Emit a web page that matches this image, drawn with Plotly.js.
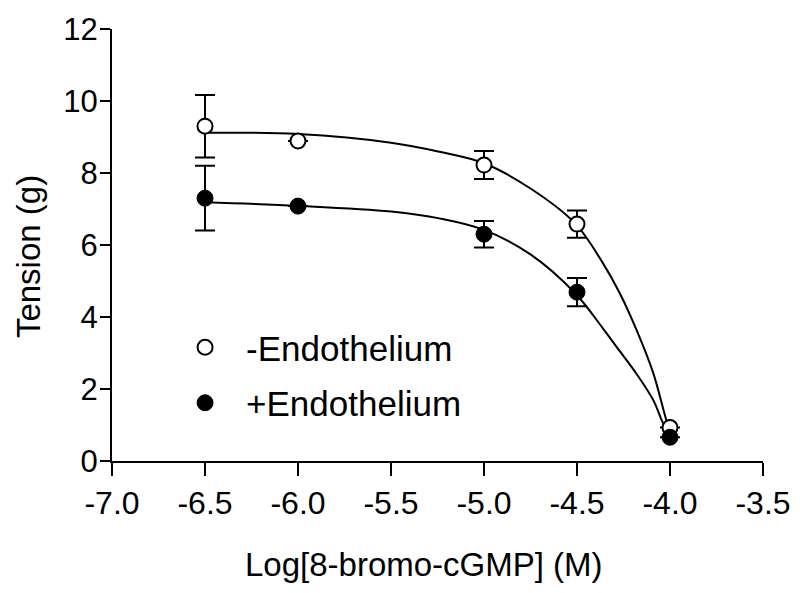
<!DOCTYPE html>
<html>
<head>
<meta charset="utf-8">
<script src="https://cdn.plot.ly/plotly-3.0.1.min.js"></script>
<style>
  html, body { margin: 0; padding: 0; background: #ffffff; }
  #chart { width: 800px; height: 593px; }
</style>
</head>
<body>
<div id="chart"></div>
<script>
// Measured data (log molar concentration of 8-bromo-cGMP vs tension in g)
const logConc = [-6.5, -6.0, -5.0, -4.5, -4.0];

const tensionMinusEndo = [9.30, 8.89, 8.22, 6.58, 0.93];
const semMinusEndo     = [0.87, 0.00, 0.39, 0.38, 0.00];

const tensionPlusEndo  = [7.30, 7.08, 6.30, 4.69, 0.66];
const semPlusEndo      = [0.90, 0.00, 0.37, 0.39, 0.00];

// Fitted curves
const curveMinusX = [-6.5, -6.0, -5.5, -5.24, -5.0, -4.75, -4.51, -4.36, -4.27, -4.18, -4.09, -4.02, -4.0];
const curveMinusY = [9.12, 9.08, 8.84, 8.59, 8.27, 7.57, 6.60, 5.49, 4.66, 3.64, 2.44, 1.14, 0.85];

const curvePlusX  = [-6.5, -6.0, -5.5, -5.24, -5.0, -4.75, -4.51, -4.36, -4.27, -4.18, -4.09, -4.04, -4.0];
const curvePlusY  = [7.19, 7.09, 6.93, 6.74, 6.42, 5.74, 4.66, 3.68, 3.05, 2.42, 1.69, 1.08, 0.68];

// Axis ticks
const xTickVals = [-7.0, -6.5, -6.0, -5.5, -5.0, -4.5, -4.0, -3.5];
const xTickText = ["-7.0", "-6.5", "-6.0", "-5.5", "-5.0", "-4.5", "-4.0", "-3.5"];
const yTickVals = [0, 2, 4, 6, 8, 10, 12];
const yTickText = ["0", "2", "4", "6", "8", "10", "12"];

const seriesNames = ["-Endothelium", "+Endothelium"];
const xTitle = "Log[8-bromo-cGMP] (M)";
const yTitle = "Tension (g)";

const FONT = "Liberation Sans, Arial, sans-serif";

const traces = [
  {
    x: curveMinusX, y: curveMinusY, type: "scatter", mode: "lines",
    line: { color: "#000", width: 2, shape: "spline", smoothing: 1 },
    showlegend: false, hoverinfo: "skip"
  },
  {
    x: curvePlusX, y: curvePlusY, type: "scatter", mode: "lines",
    line: { color: "#000", width: 2, shape: "spline", smoothing: 1 },
    showlegend: false, hoverinfo: "skip"
  },
  {
    x: logConc, y: tensionMinusEndo, type: "scatter", mode: "markers",
    name: seriesNames[0], legendgroup: "a",
    error_y: { type: "data", array: semMinusEndo, visible: true, color: "#000", thickness: 2, width: 10 },
    marker: { symbol: "circle", size: 15, color: "#ffffff", line: { color: "#000", width: 2 } },
    cliponaxis: false
  },
  {
    x: logConc, y: tensionPlusEndo, type: "scatter", mode: "markers",
    name: seriesNames[1], legendgroup: "b",
    error_y: { type: "data", array: semPlusEndo, visible: true, color: "#000", thickness: 2, width: 10 },
    marker: { symbol: "circle", size: 16, color: "#000", line: { color: "#000", width: 1 } },
    cliponaxis: false
  }
];

const layout = {
  width: 800, height: 593,
  margin: { l: 112, r: 37, t: 29, b: 132, pad: 0 },
  paper_bgcolor: "#fff", plot_bgcolor: "#fff",
  font: { family: FONT, color: "#000", size: 30 },
  showlegend: true,
  legend: {
    x: 0.08, y: 0.331, xanchor: "left", yanchor: "top",
    bgcolor: "rgba(0,0,0,0)", borderwidth: 0,
    font: { family: FONT, size: 35, color: "#000" },
    itemwidth: 72, tracegroupgap: 7
  },
  xaxis: {
    range: [-7.0, -3.5], tickmode: "array", tickvals: xTickVals, ticktext: xTickText,
    showgrid: false, zeroline: false, showline: true, linecolor: "#000", linewidth: 2,
    ticks: "outside", ticklen: 13, tickwidth: 2, tickcolor: "#000",
    tickfont: { family: FONT, size: 32, color: "#000" }
  },
  yaxis: {
    range: [0, 12], tickmode: "array", tickvals: yTickVals, ticktext: yTickText,
    showgrid: false, zeroline: false, showline: true, linecolor: "#000", linewidth: 2,
    ticks: "outside", ticklen: 10, tickwidth: 2, tickcolor: "#000",
    ticklabelstandoff: -4,
    tickfont: { family: FONT, size: 31, color: "#000" }
  },
  annotations: [
    {
      text: xTitle, xref: "paper", yref: "paper", x: 0.4785, y: -0.24,
      xanchor: "center", yanchor: "middle", showarrow: false,
      font: { family: FONT, size: 33, color: "#000" }
    },
    {
      text: yTitle, xref: "paper", yref: "paper", x: -0.129, y: 0.472,
      xanchor: "center", yanchor: "middle", showarrow: false, textangle: -90,
      font: { family: FONT, size: 33, color: "#000" }
    }
  ]
};

Plotly.newPlot("chart", traces, layout, { displayModeBar: false, staticPlot: true });
</script>
</body>
</html>
